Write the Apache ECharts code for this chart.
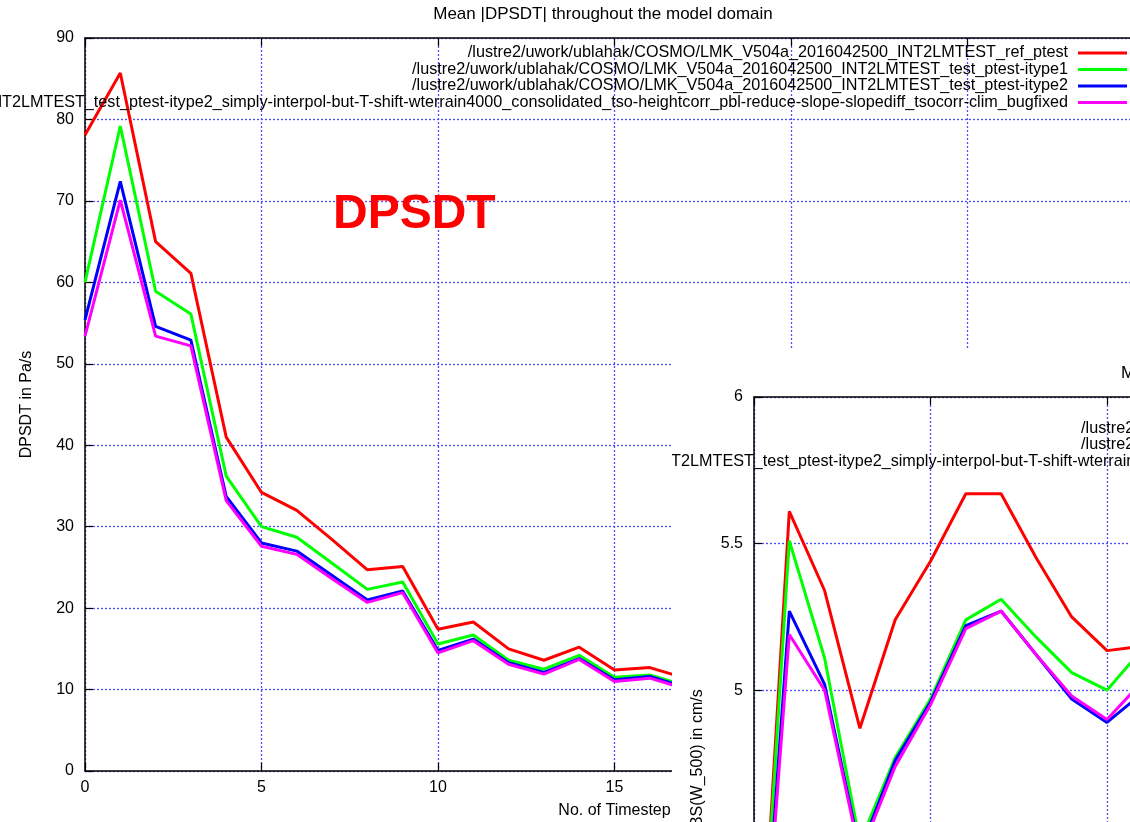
<!DOCTYPE html>
<html>
<head>
<meta charset="utf-8">
<script src="https://cdn.jsdelivr.net/npm/echarts@6/dist/echarts.min.js"></script>
<style>
  html, body { margin: 0; padding: 0; background: #fff; overflow: hidden; }
  #main  { position: absolute; left: 0; top: 0; width: 1130px; height: 822px; }
  #inset { position: absolute; left: 672px; top: 348px; width: 458px; height: 474px; background: #fff; }
</style>
</head>
<body>
<div id="main"></div>
<div id="inset"></div>
<script>
// ---- run labels and colours ----
const runNames = [
  '/lustre2/uwork/ublahak/COSMO/LMK_V504a_2016042500_INT2LMTEST_ref_ptest',
  '/lustre2/uwork/ublahak/COSMO/LMK_V504a_2016042500_INT2LMTEST_test_ptest-itype1',
  '/lustre2/uwork/ublahak/COSMO/LMK_V504a_2016042500_INT2LMTEST_test_ptest-itype2',
  '/lustre2/uwork/ublahak/COSMO/LMK_V504a_2016042500_INT2LMTEST_test_ptest-itype2_simply-interpol-but-T-shift-wterrain4000_consolidated_tso-heightcorr_pbl-reduce-slope-slopediff_tsocorr-clim_bugfixed'
];
const runColors = ['#ff0000', '#00ff00', '#0000ff', '#ff00ff'];

// ---- mean |DPSDT| (Pa/s) per timestep ----
const dpsdtSteps    = [0, 1, 2, 3, 4, 5, 6, 7, 8, 9, 10, 11, 12, 13, 14, 15, 16, 17];
const dpsdtRef      = [78.1, 85.7, 65.0, 61.1, 41.0, 34.2, 32.0, 28.4, 24.7, 25.1, 17.4, 18.3, 15.0, 13.6, 15.2, 12.4, 12.7, 11.4];
const dpsdtItype1   = [60.0, 79.2, 58.9, 56.1, 36.2, 30.0, 28.7, 25.5, 22.3, 23.2, 15.6, 16.7, 13.6, 12.5, 14.2, 11.5, 11.8, 10.5];
const dpsdtItype2   = [55.4, 72.4, 54.6, 52.9, 33.7, 28.0, 27.0, 24.0, 21.0, 22.1, 14.8, 16.2, 13.3, 12.1, 13.8, 11.2, 11.6, 10.3];
const dpsdtBugfixed = [53.4, 70.1, 53.4, 52.2, 33.2, 27.6, 26.6, 23.6, 20.7, 21.9, 14.5, 16.0, 13.1, 11.9, 13.7, 11.0, 11.4, 10.1];

// ---- mean ABS(W_500) (cm/s) per timestep ----
const wSteps    = [0, 1, 2, 3, 4, 5, 6, 7, 8, 9, 10, 11];
const wRef      = [3.60, 5.61, 5.34, 4.87, 5.24, 5.44, 5.67, 5.67, 5.45, 5.25, 5.135, 5.15];
const wItype1   = [3.60, 5.51, 5.11, 4.48, 4.77, 4.97, 5.24, 5.31, 5.18, 5.06, 5.00, 5.14];
const wItype2   = [3.60, 5.27, 5.02, 4.45, 4.76, 4.96, 5.22, 5.27, 5.12, 4.97, 4.89, 4.99];
const wBugfixed = [3.60, 5.19, 5.00, 4.44, 4.74, 4.95, 5.21, 5.27, 5.12, 4.98, 4.90, 5.03];

// ---- axis settings ----
const stepTicks   = { min: 0, max: 30, interval: 5 };
const dpsdtTicks  = { min: 0, max: 90, interval: 10 };
const wTicks      = { min: 3.5, max: 6, interval: 0.5 };

const FONT = "'Liberation Sans', Arial, Helvetica, sans-serif";
const GRID_LINE = { color: '#4d4dff', type: [2, 2], width: 1.3 };
const legendRows = [53, 69.5, 86, 102.5];

function pairs(xs, ys) { return xs.map((x, i) => [x, ys[i]]); }

function lineSeries(xs, list) {
  return list.map((ys, i) => ({
    type: 'line',
    name: runNames[i],
    data: pairs(xs, ys),
    showSymbol: false,
    symbol: 'none',
    animation: false,
    z: 3 + i,
    lineStyle: { color: runColors[i], width: 3 },
    itemStyle: { color: runColors[i] }
  }));
}

function axisPair(ticks, nameText, nameGap, labelMargin) {
  return [
    {
      type: 'value', position: 'bottom', min: ticks.min, max: ticks.max, interval: ticks.interval,
      axisLine: { show: true, onZero: false, lineStyle: { color: '#000', width: 1.5 } },
      axisTick: { show: true, inside: true, length: 8, lineStyle: { color: '#000', width: 1.2 } },
      axisLabel: { color: '#000', fontSize: 16, fontFamily: FONT, margin: labelMargin },
      splitLine: { show: true, lineStyle: GRID_LINE },
      name: nameText, nameLocation: 'middle', nameGap: nameGap, nameMoveOverlap: false,
      nameTextStyle: { color: '#000', fontSize: 16, fontFamily: FONT }
    },
    {
      type: 'value', position: 'top', min: ticks.min, max: ticks.max, interval: ticks.interval,
      axisLine: { show: true, onZero: false, lineStyle: { color: '#000', width: 1.5 } },
      axisTick: { show: true, inside: true, length: 8, lineStyle: { color: '#000', width: 1.2 } },
      axisLabel: { show: false },
      splitLine: { show: false }
    }
  ];
}

function yAxisDef(ticks, nameText, nameGap) {
  return {
    type: 'value', min: ticks.min, max: ticks.max, interval: ticks.interval,
    axisLine: { show: true, onZero: false, lineStyle: { color: '#000', width: 1.5 } },
    axisTick: { show: true, inside: true, length: 8, lineStyle: { color: '#000', width: 1.2 } },
    axisLabel: { color: '#000', fontSize: 16, fontFamily: FONT, margin: 11 },
    splitLine: { show: true, lineStyle: GRID_LINE },
    name: nameText, nameLocation: 'middle', nameRotate: 90, nameGap: nameGap, nameMoveOverlap: false,
    nameTextStyle: { color: '#000', fontSize: 16, fontFamily: FONT }
  };
}

function legendGraphics(rightX, rowYs) {
  const out = [];
  runNames.forEach((nm, i) => {
    out.push({
      type: 'text', z: 20,
      style: { text: nm, x: rightX, y: rowYs[i], align: 'right', verticalAlign: 'middle',
               fontSize: 16.2, fontFamily: FONT, fill: '#000' }
    });
    out.push({
      type: 'line', z: 20,
      shape: { x1: rightX + 10, y1: rowYs[i], x2: rightX + 59, y2: rowYs[i] },
      style: { stroke: runColors[i], lineWidth: 3 }
    });
  });
  return out;
}

// ---- main chart: DPSDT ----
const mainChart = echarts.init(document.getElementById('main'), null, { renderer: 'canvas' });
mainChart.setOption({
  animation: false,
  backgroundColor: '#fff',
  grid: { left: 85, top: 38, width: 1059, height: 733, outerBoundsMode: 'none', containLabel: false },
  xAxis: axisPair(stepTicks, 'No. of Timestep', 32, 9),
  yAxis: yAxisDef(dpsdtTicks, 'DPSDT in Pa/s', 50),
  series: lineSeries(dpsdtSteps, [dpsdtRef, dpsdtItype1, dpsdtItype2, dpsdtBugfixed]),
  graphic: [
    { type: 'text', z: 20,
      style: { text: 'Mean |DPSDT| throughout the model domain', x: 603, y: 14, align: 'center',
               verticalAlign: 'middle', fontSize: 17, fontFamily: FONT, fill: '#000' } },
    { type: 'text', z: 20,
      style: { text: 'DPSDT', x: 333, y: 215, align: 'left', verticalAlign: 'middle',
               fontSize: 48, fontWeight: 'bold', fontFamily: FONT, fill: '#ff0000' } }
  ].concat(legendGraphics(1068, legendRows))
});

// ---- second chart: ABS(W_500) ----
const insetChart = echarts.init(document.getElementById('inset'), null, { renderer: 'canvas' });
insetChart.setOption({
  animation: false,
  backgroundColor: '#fff',
  grid: { left: 82, top: 49, width: 1059, height: 733, outerBoundsMode: 'none', containLabel: false },
  xAxis: axisPair(stepTicks, 'No. of Timestep', 32, 9),
  yAxis: yAxisDef(wTicks, 'ABS(W_500) in cm/s', 48),
  series: lineSeries(wSteps, [wRef, wItype1, wItype2, wBugfixed]),
  graphic: [
    { type: 'text', z: 20,
      style: { text: 'Mean |ABS(W_500)| throughout the model domain', x: 449, y: 25, align: 'left',
               verticalAlign: 'middle', fontSize: 17, fontFamily: FONT, fill: '#000' } }
  ].concat(legendGraphics(1065, legendRows.map(v => v + 11)))
});
</script>
</body>
</html>
